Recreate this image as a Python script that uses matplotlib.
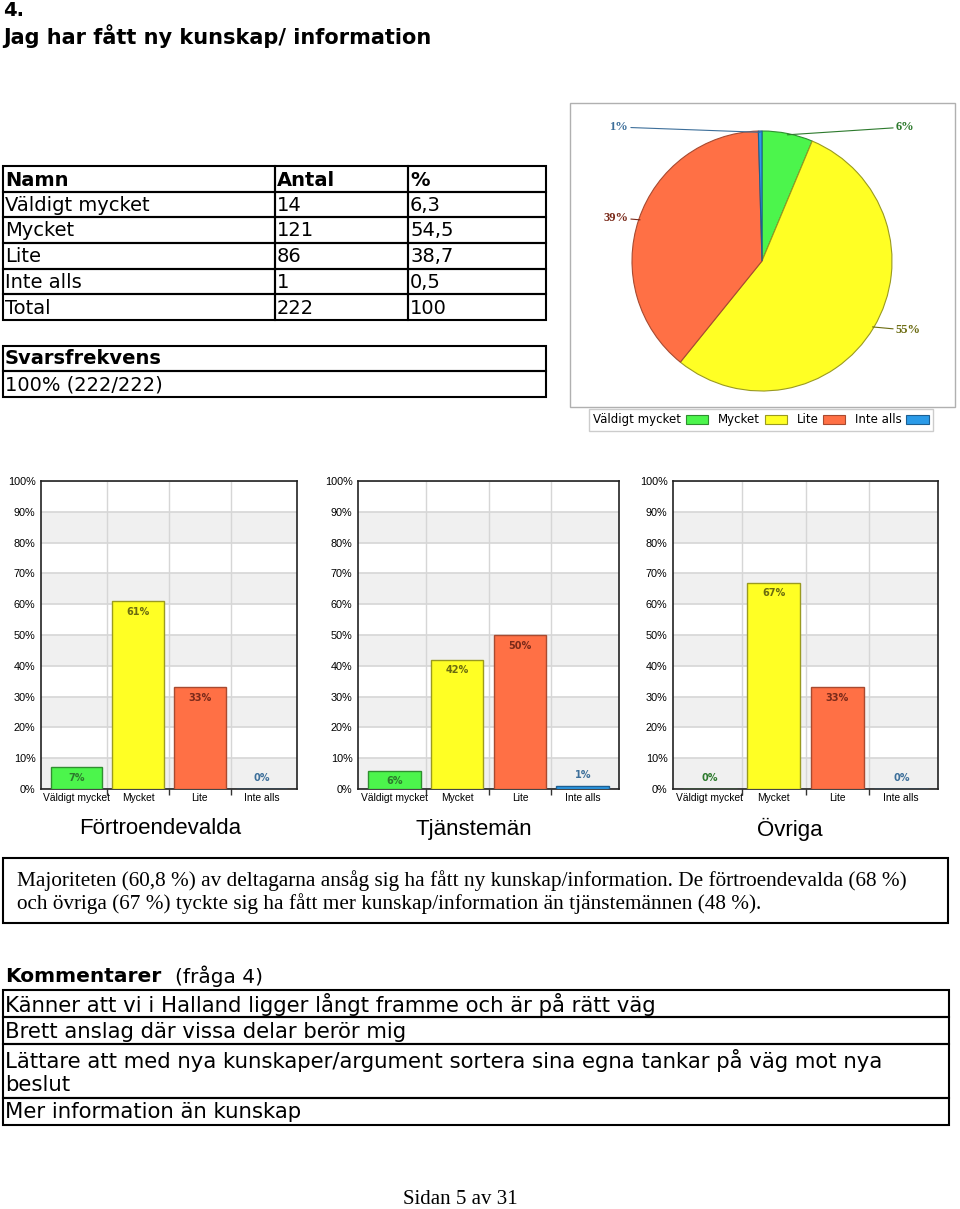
import matplotlib
matplotlib.use('Agg')
import matplotlib.pyplot as plt
from matplotlib.patches import Rectangle
import numpy as np

W, H = 960, 1209

# data
categories = ['Väldigt mycket', 'Mycket', 'Lite', 'Inte alls']
antal = [14, 121, 86, 1]
procent = ['6,3', '54,5', '38,7', '0,5']
pie_labels = ['6%', '55%', '39%', '1%']
total = 222
groups = ['Förtroendevalda', 'Tjänstemän', 'Övriga']
fortroendevalda = [7, 61, 33, 0]
tjansteman = [6, 42, 50, 1]
ovriga = [0, 67, 33, 0]
yticks = list(range(0, 101, 10))
comments = ['Känner att vi i Halland ligger långt framme och är på rätt väg',
            'Brett anslag där vissa delar berör mig',
            'Lättare att med nya kunskaper/argument sortera sina egna tankar på väg mot nya\nbeslut',
            'Mer information än kunskap']
summary = ('Majoriteten (60,8 %) av deltagarna ansåg sig ha fått ny kunskap/information. De förtroendevalda (68 %)\n'
           'och övriga (67 %) tyckte sig ha fått mer kunskap/information än tjänstemännen (48 %).')

colors = ['#4cf54c', '#ffff24', '#ff7045', '#2b9be8']
edges = ['#2f8f2f', '#9a9a20', '#a84a30', '#1d5f92']
label_colors = ['#2d7a2d', '#6b6b10', '#7a2a1a', '#3d6f9a']

fig = plt.figure(figsize=(9.6, 12.09), dpi=100)

def txt(x, y, s, **kw):
    kw.setdefault('va', 'center')
    fig.text(x / W, 1 - y / H, s, **kw)

def box(x0, y0, x1, y1, ec='black', lw=1.5):
    fig.add_artist(Rectangle((x0 / W, 1 - y1 / H), (x1 - x0) / W, (y1 - y0) / H,
                             transform=fig.transFigure, fill=False, ec=ec, lw=lw))

def axes_px(x0, y0, x1, y1):
    return fig.add_axes([x0 / W, 1 - y1 / H, (x1 - x0) / W, (y1 - y0) / H])

sans = 'DejaVu Sans'

# heading
txt(3, 11, '4.', fontsize=14, fontweight='bold', family=sans)
txt(3, 36, 'Jag har fått ny kunskap/ information', fontsize=15, fontweight='bold', family=sans)

# table
rows_y = [166, 192, 217, 243, 269, 294, 320]
cols_x = [3, 275, 408, 546]
rows = [['Namn', 'Antal', '%']]
for c, a, p in zip(categories, antal, procent):
    rows.append([c, str(a), p])
rows.append(['Total', str(total), '100'])
for i, row in enumerate(rows):
    for j, cell in enumerate(row):
        box(cols_x[j], rows_y[i], cols_x[j + 1], rows_y[i + 1])
        txt(cols_x[j] + 2, (rows_y[i] + rows_y[i + 1]) / 2 + 1, cell, fontsize=14, family=sans,
            fontweight='bold' if i == 0 else 'normal')

box(3, 346, 546, 371)
box(3, 371, 546, 397)
txt(5, 359, 'Svarsfrekvens', fontsize=14, family=sans, fontweight='bold')
txt(5, 385, f'100% ({total}/{total})', fontsize=14, family=sans)

# pie panel
box(570, 103, 955, 407, ec='#b0b0b0', lw=1)
axp = axes_px(762 - 162.5, 261 - 162.5, 762 + 162.5, 261 + 162.5)
wedges, _ = axp.pie(antal, colors=colors, startangle=90, counterclock=False,
                    wedgeprops=dict(linewidth=0.8))
for w, e in zip(wedges, edges):
    w.set_edgecolor(e)
axp.set_xlim(-1.25, 1.25)
axp.set_ylim(-1.25, 1.25)
for w, lc, lab in zip(wedges, label_colors, pie_labels):
    ang = np.deg2rad((w.theta1 + w.theta2) / 2)
    cx, cy = np.cos(ang), np.sin(ang)
    side = 1 if cx >= 0 else -1
    ty = 1.03 if cy > 0.9 else cy * 1.04
    axp.annotate(lab, xy=(cx * 0.99, cy * 0.99), xytext=(side * 1.03, ty),
                 ha='left' if side > 0 else 'right', va='center', fontsize=9,
                 fontweight='bold', family='Liberation Serif', color=lc,
                 arrowprops=dict(arrowstyle='-', color=lc, lw=0.8, shrinkA=0, shrinkB=0))

leg = fig.legend(wedges, categories, ncol=4, markerfirst=False, loc='center',
                 bbox_to_anchor=(761 / W, 1 - 420 / H), fontsize=8.5, frameon=True,
                 fancybox=False, edgecolor='#c0c0c0', handlelength=1.9, handleheight=0.9,
                 columnspacing=0.8, borderpad=0.35, handletextpad=0.4)
leg.get_frame().set_linewidth(1)

# bar charts
bar_axes = [(41, 481, 297, 789), (358, 481, 619, 789), (673, 481, 938, 789)]
group_values = [fortroendevalda, tjansteman, ovriga]
title_x = [160, 474, 790]
for pos, vals, g, tx in zip(bar_axes, group_values, groups, title_x):
    ax = axes_px(*pos)
    ax.set_xlim(-0.575, 3.575)
    ax.set_ylim(0, 100)
    for k in range(0, 100, 20):
        ax.axhspan(k, k + 10, color='#f0f0f0', zorder=0, lw=0)
    ax.set_yticks(yticks)
    ax.set_yticklabels([f'{v}%' for v in yticks])
    ax.yaxis.grid(True, color='#d6d6d6', lw=1.2, zorder=1)
    ax.set_xticks(range(4))
    ax.set_xticklabels(categories)
    ax.set_xticks([0.5, 1.5, 2.5], minor=True)
    ax.xaxis.grid(True, which='minor', color='#d6d6d6', lw=1, zorder=1)
    ax.set_axisbelow(True)
    ax.tick_params(axis='y', length=0, pad=4, labelsize=7.8)
    ax.tick_params(axis='x', which='major', length=0, pad=3, labelsize=7.4)
    ax.tick_params(axis='x', which='minor', length=4, width=1, color='#333333')
    for lab in ax.get_xticklabels() + ax.get_yticklabels():
        lab.set_family('Liberation Sans')
    for s in ax.spines.values():
        s.set_color('#222222')
        s.set_linewidth(1.2)
    ax.bar(range(4), vals, width=0.84, color=colors, edgecolor=edges, lw=1, zorder=3)
    for i, v in enumerate(vals):
        y = v - 3.5 if v >= 5 else v + 3.5
        ax.text(i, y, f'{v}%', ha='center', va='center', fontsize=7, fontweight='bold',
                color=label_colors[i], zorder=4, family='DejaVu Sans')
    txt(tx, 829, g, ha='center', fontsize=16, family='Liberation Sans')

# summary box
box(3, 858, 948, 923)
txt(17, 892, summary, fontsize=15.3, family='Liberation Serif', linespacing=1.1)

# comments
txt(5, 976, 'Kommentarer', fontsize=14.5, family=sans, fontweight='bold')
txt(175, 976, '(fråga 4)', fontsize=14.5, family=sans)
cy = [990, 1017, 1044, 1098, 1125]
for k, c in enumerate(comments):
    box(3, cy[k], 949, cy[k + 1])
    txt(5, (cy[k] + cy[k + 1]) / 2 + 1, c, fontsize=15.3, family=sans, linespacing=1.2)

txt(460, 1200, 'Sidan 5 av 31', ha='center', fontsize=15, family='Liberation Serif')

fig.savefig('out.png', dpi=100)
